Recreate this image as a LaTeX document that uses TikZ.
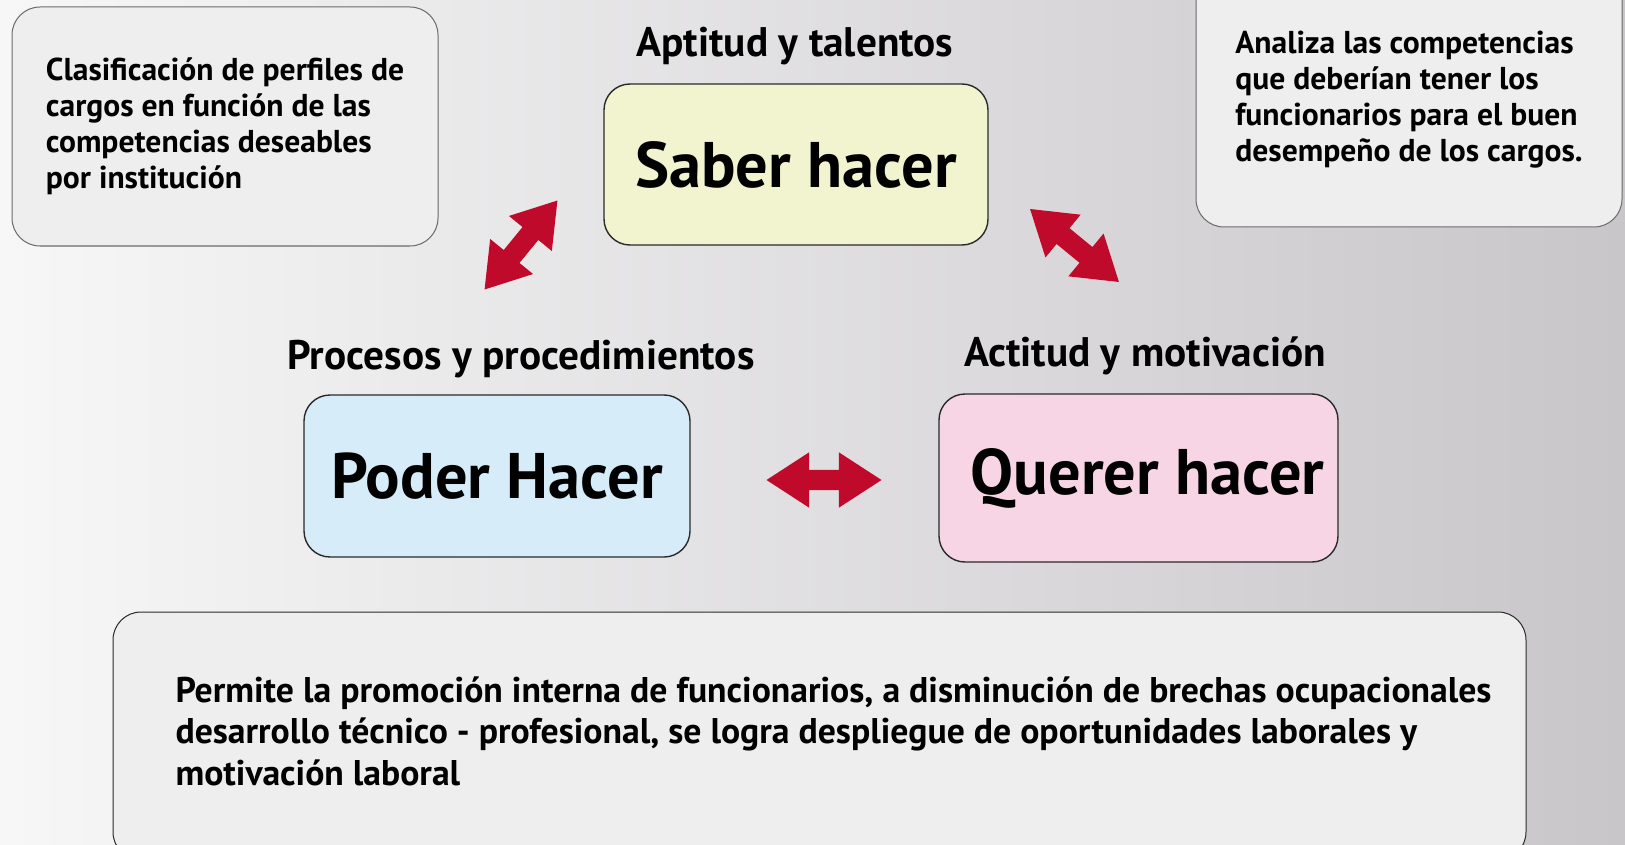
\documentclass[tikz,border=0pt]{standalone}
\usepackage{fontspec}
\setmainfont{PT Sans}
\usetikzlibrary{shapes.arrows}

\definecolor{fondoizq}{HTML}{F7F7F7}
\definecolor{fondoder}{HTML}{C9C6CA}
\definecolor{grisfondo}{HTML}{EEEEEE}
\definecolor{grisborde}{HTML}{6A6A6A}
\definecolor{borde}{HTML}{2A2A2A}
\definecolor{amarillo}{HTML}{F2F4CF}
\definecolor{celeste}{HTML}{D6ECF8}
\definecolor{rosa}{HTML}{F8D5E5}
\definecolor{rojo}{HTML}{C00A2B}

\begin{document}
\begin{tikzpicture}[x=1pt, y=-1pt,
        nota/.style={draw=grisborde, line width=1pt, fill=grisfondo, rounded corners=28pt, align=left, font=\fontsize{31.6}{36}\selectfont\bfseries},
        saber/.style={draw=borde, line width=1.4pt, rounded corners=26pt, font=\fontsize{64.4}{70}\selectfont\bfseries},
        titulo/.style={font=\fontsize{41.3}{44}\selectfont\bfseries},
        flecha/.style={shape=double arrow, fill=rojo, inner sep=10pt, double arrow head extend=17.5pt, double arrow tip angle=66, minimum height=115pt}]

        \useasboundingbox (0,0) rectangle (1625,845);
        \shade[left color=fondoizq, right color=fondoder] (0,0) rectangle (1625,845);

        \node[nota, minimum width=426pt, minimum height=239pt] (perfiles) at (225,126.5) {Clasificación de perfiles de\\cargos en función de las\\competencias deseables\\por institución};
        \node[nota, minimum width=426pt, minimum height=255pt] (analiza) at (1409,99.5) {Analiza las competencias\\que deberían tener los\\funcionarios para el buen\\desempeño de los cargos.};

        \node[titulo] (aptitud) at (795,46) {Aptitud y talentos};
        \node[saber, fill=amarillo, minimum width=384pt, minimum height=161pt] (saberhacer) at (796,164.5) {Saber hacer};

        \node[titulo] (procesos) at (521,359) {Procesos y procedimientos};
        \node[saber, fill=celeste, minimum width=386pt, minimum height=162pt] (poderhacer) at (497,476) {Poder Hacer};

        \node[titulo] (actitud) at (1145,356) {Actitud y motivación};
        \node[saber, fill=rosa, minimum width=399pt, minimum height=168pt] (quererhacer) at (1138.5,478) {\hspace*{18pt}Querer hacer};

        \node[flecha, rotate=50.7] (flechaizq) at (521,245) {};
        \node[flecha, rotate=-39.4] (flechader) at (1074.5,245.5) {};
        \node[flecha] (flechamedio) at (824,480) {};

        \node[nota, draw=borde, minimum width=1413pt, minimum height=248pt] (promocion) at (819.5,736) {};
        \node[align=left, anchor=west, font=\fontsize{35.7}{41.5}\selectfont\bfseries] (promociontxt) at (172,731) {Permite la promoción interna de funcionarios, a disminución de brechas ocupacionales\\desarrollo técnico - profesional, se logra despliegue de oportunidades laborales y\\motivación laboral};
    \end{tikzpicture}
\end{document}
